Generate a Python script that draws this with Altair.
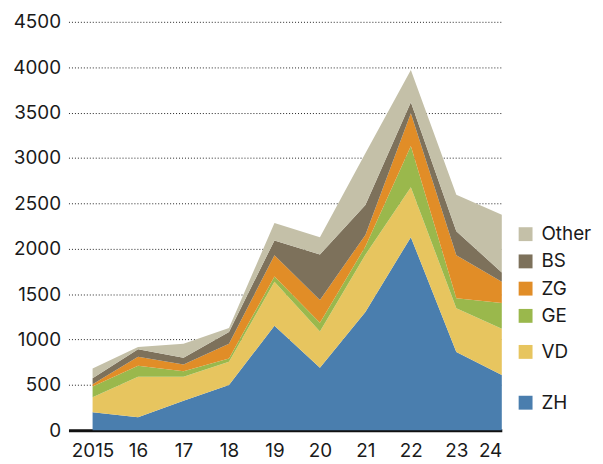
import altair as alt
import pandas as pd

years = [2015, 2016, 2017, 2018, 2019, 2020, 2021, 2022, 2023, 2024]
regions = ["ZH", "VD", "GE", "ZG", "BS", "Other"]
colors = ["#4A7EAE", "#E7C55F", "#9AB84C", "#E18D27", "#7D715B", "#C4C0A8"]

zh = [198, 143, 325, 500, 1152, 690, 1304, 2128, 864, 609]
vd = [167, 448, 266, 255, 484, 400, 630, 551, 481, 510]
ge = [117, 120, 61, 36, 59, 95, 91, 454, 110, 284]
zg = [25, 99, 74, 164, 233, 251, 128, 361, 473, 233]
bs = [66, 83, 73, 128, 164, 500, 328, 120, 265, 103]
other = [109, 26, 156, 44, 193, 192, 572, 354, 402, 637]

series = [zh, vd, ge, zg, bs, other]

y_ticks = [0, 500, 1000, 1500, 2000, 2500, 3000, 3500, 4000, 4500]

# build stacked table
rows = []
base = [0] * len(years)
for name, vals in zip(regions, series):
    for i, yr in enumerate(years):
        rows.append({"year": yr, "region": name, "y0": base[i], "y1": base[i] + vals[i]})
    base = [b + v for b, v in zip(base, vals)]
df = pd.DataFrame(rows)

# legend label positions: mid of each band at the last year, spread apart
last = df[df["year"] == years[-1]].set_index("region")
min_gap = 300
leg_rows = []
prev = None
for name in regions:
    mid = (last.loc[name, "y0"] + last.loc[name, "y1"]) / 2
    if prev is not None and mid < prev + min_gap:
        mid = prev + min_gap
    prev = mid
    leg_rows.append({"region": name, "ly": mid})
leg = pd.DataFrame(leg_rows)

W = 437
H = 412
FONT = "Inter"
FS = 19

color_scale = alt.Scale(domain=regions, range=colors)
y_scale = alt.Scale(domain=[0, 4500], nice=False)
x_scale = alt.Scale(domain=[2014.47, 2024], nice=False, zero=False)

area = alt.Chart(df).mark_area(opacity=1).encode(
    x=alt.X("year:Q", scale=x_scale, title=None,
            axis=alt.Axis(values=years, format="d",
                          labelExpr="datum.value == 2015 ? '2015' : substring(datum.label, 2)",
                          grid=False, ticks=False, labelPadding=11,
                          domain=True, domainColor="#111111", domainWidth=3,
                          labelFontSize=FS, labelFont=FONT, labelColor="#1a1a1a")),
    y=alt.Y("y1:Q", scale=y_scale, title=None,
            axis=alt.Axis(values=y_ticks, format="d", grid=True, gridDash=[1, 2],
                          gridColor="#222222", gridWidth=1, ticks=False, domain=False,
                          labelPadding=8, labelFontSize=FS, labelFont=FONT,
                          labelColor="#1a1a1a")),
    y2="y0:Q",
    color=alt.Color("region:N", scale=color_scale, legend=None),
    detail="region:N",
)

squares = alt.Chart(leg).mark_square(size=196, opacity=1).encode(
    x=alt.value(W + 24),
    y=alt.Y("ly:Q", scale=y_scale),
    color=alt.Color("region:N", scale=color_scale, legend=None),
)

labels = alt.Chart(leg).mark_text(align="left", baseline="middle", fontSize=FS,
                                  font=FONT, color="#1a1a1a").encode(
    x=alt.value(W + 40),
    y=alt.Y("ly:Q", scale=y_scale),
    text="region:N",
)

chart = alt.layer(area, squares, labels).properties(
    width=W, height=H,
    autosize=alt.AutoSizeParams(type="none"),
    padding={"left": 61, "top": 12, "right": 94, "bottom": 32},
).configure_view(stroke=None)

chart.save("out.html", embed_options={"renderer": "svg", "actions": False})
